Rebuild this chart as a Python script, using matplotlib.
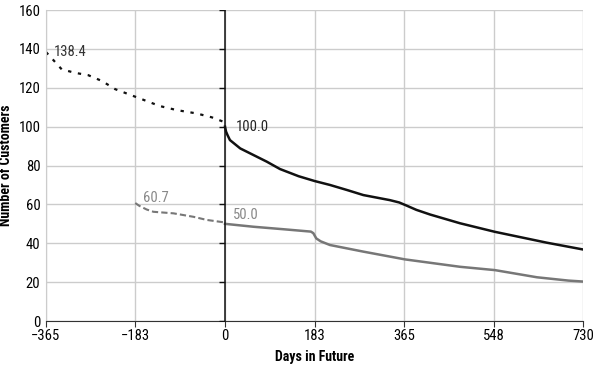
import matplotlib
matplotlib.use('Agg')
import matplotlib.pyplot as plt
from matplotlib import font_manager

names = {f.name for f in font_manager.fontManager.ttflist}
fam = [n for n in ['Liberation Sans Narrow', 'Roboto Condensed', 'Liberation Sans'] if n in names] + ['DejaVu Sans']
plt.rcParams['font.family'] = fam

# black series: last year (dotted) and future (solid)
black_past_x = [-365, -360, -353, -333, -306, -279, -251, -224, -183, -133, -98, -58, -27, -3, 0]
black_past_y = [138.4, 137.0, 135.1, 129.5, 127.7, 126.5, 123.5, 119.3, 115.4, 110.6, 108.5, 106.8, 104.8, 102.5, 101.5]
black_fut_x = [0, 2, 5, 10, 31, 58, 85, 112, 150, 183, 214, 250, 282, 336, 355, 370, 390, 418, 479, 550, 656, 730]
black_fut_y = [100.0, 97.5, 95.7, 93.1, 88.8, 85.4, 82.0, 78.2, 74.5, 72.0, 70.0, 67.3, 64.8, 62.2, 61.0, 59.4, 57.2, 54.8, 50.3, 45.9, 40.3, 36.8]

# gray series
gray_past_x = [-183, -175, -160, -146, -105, -64, -37, -3, 0]
gray_past_y = [60.7, 59.3, 57.4, 56.2, 55.4, 53.6, 52.0, 50.8, 50.5]
gray_fut_x = [0, 58, 120, 175, 180, 186, 195, 214, 282, 367, 479, 550, 636, 700, 730]
gray_fut_y = [50.0, 48.5, 47.2, 46.0, 45.2, 42.5, 41.0, 39.1, 35.7, 31.7, 27.9, 26.2, 22.5, 20.8, 20.3]

xticks = [-365, -183, 0, 183, 365, 548, 730]
xlabels = ['\u2212365', '\u2212183', '0', '183', '365', '548', '730']
yticks = [0, 20, 40, 60, 80, 100, 120, 140, 160]

fig = plt.figure(figsize=(5.95, 3.65), dpi=100)
ax = fig.add_axes([0.0773, 0.1205, 0.9027, 0.852])

ax.plot(black_past_x, black_past_y, color='#111111', lw=1.6, ls=(0, (1.5, 3)))
ax.plot(black_fut_x, black_fut_y, color='#111111', lw=1.8)
ax.plot(gray_past_x, gray_past_y, color='#777777', lw=1.5, ls=(0, (3, 1.5)))
ax.plot(gray_fut_x, gray_fut_y, color='#777777', lw=1.8)

ax.axvline(0, color='#111111', lw=1.1, zorder=3)
ax.plot([0] * len(yticks), yticks, ls='none', marker=0, ms=4, color='#111111', mew=1, zorder=3)

ax.text(-350, 138.4, '138.4', color='#333333', fontsize=10.5, va='center')
ax.text(22, 100, '100.0', color='#222222', fontsize=10.5, va='center')
ax.text(-168, 63.5, '60.7', color='#888888', fontsize=10.5, va='center')
ax.text(16, 54.5, '50.0', color='#888888', fontsize=10.5, va='center')

ax.set_xlim(-365, 730)
ax.set_ylim(0, 160)
ax.set_xticks(xticks)
ax.set_xticklabels(xlabels)
ax.set_yticks(yticks)
ax.grid(True, color='#cccccc', lw=1)
ax.set_axisbelow(True)
for s in ['top', 'right']:
    ax.spines[s].set_visible(False)
ax.spines['left'].set_color('#cccccc')
ax.spines['bottom'].set_color('#333333')
ax.tick_params(axis='both', labelsize=10.5, color='#333333', length=4, pad=2)
ax.tick_params(axis='y', length=0, pad=4)

ax.set_xlabel('Days in Future', fontsize=10, fontweight='bold', labelpad=5)
ax.set_ylabel('Number of Customers', fontsize=10, fontweight='bold')
ax.yaxis.set_label_coords(-0.062, 0.5)

fig.savefig('out.png', dpi=100)
